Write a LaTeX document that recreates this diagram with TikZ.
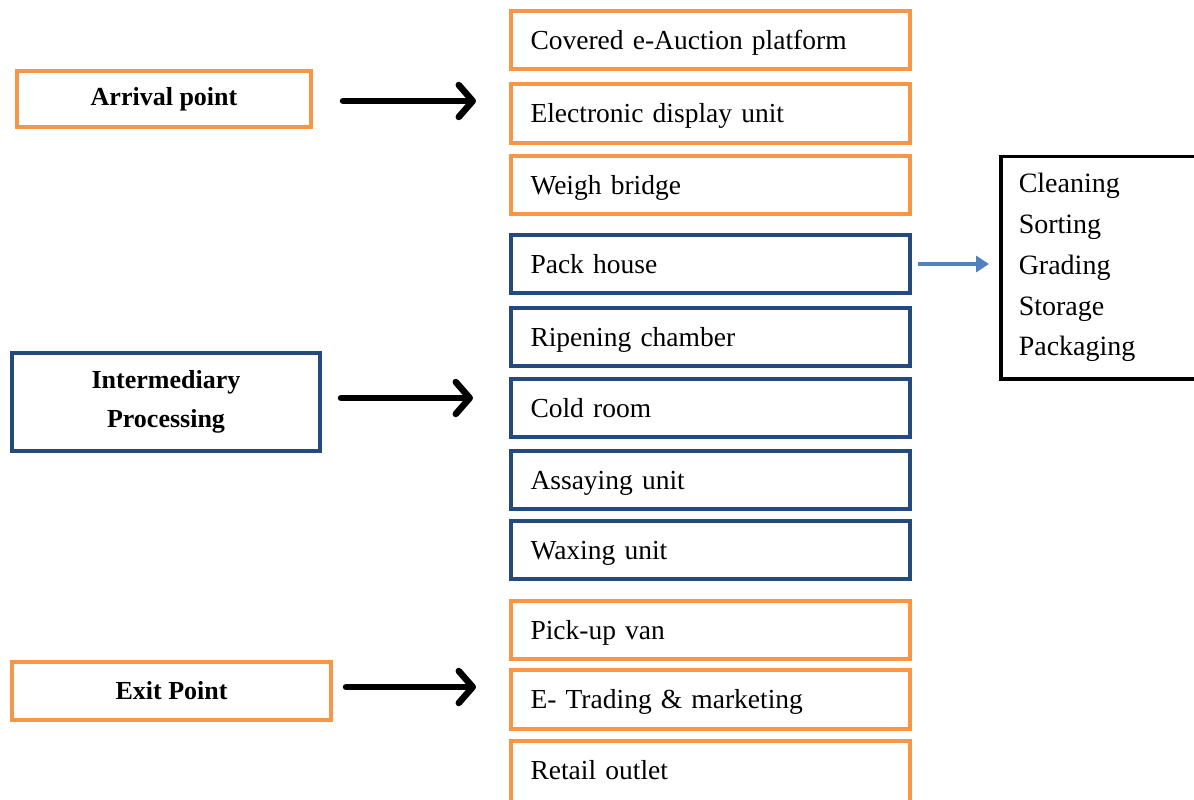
\documentclass[tikz,border=0pt]{standalone}
\usepackage{fontspec}
\setmainfont{Liberation Serif}
\newfontfamily\itemfont[WordSpace=0.78]{Liberation Serif}
\usetikzlibrary{arrows.meta}
\definecolor{borange}{HTML}{F79646}
\definecolor{bblue}{HTML}{24497E}
\definecolor{arblue}{HTML}{4F81BD}
\tikzset{
  itembox/.style={draw, line width=4pt, text width=360pt, inner xsep=19.5pt,
    minimum height=58pt, align=left, text height=24pt, text depth=6pt,
    font=\itemfont\fontsize{27.5}{32}\selectfont},
  orangebox/.style={itembox, draw=borange},
  bluebox/.style={itembox, draw=bblue},
  stagebox/.style={draw, line width=4pt, align=center,
    font=\fontsize{26}{39}\selectfont\bfseries},
  bigarrow/.style={line width=6.5pt, line cap=round,
    -{Straight Barb[length=14pt, width=32pt, line width=6.5pt, round]}},
  smallarrow/.style={draw=arblue, line width=3.5pt,
    -{Triangle[length=13pt, width=16pt]}}
}
\begin{document}
\begin{tikzpicture}[x=1pt, y=-1pt]
\useasboundingbox (0,0) rectangle (1194,800);
\clip (0,0) rectangle (1194,800);
\fill[white] (0,0) rectangle (1194,800);

% stage boxes
\node[stagebox, draw=borange, minimum width=294pt, minimum height=55pt] (arr) at (164,99) {Arrival point};
\node[stagebox, draw=bblue, minimum width=308pt, minimum height=98pt] (mid) at (166,402) {Intermediary\\Processing};
\node[stagebox, draw=borange, minimum width=319pt, minimum height=58pt] (ext) at (171.5,691) {Exit Point};

% right column
\node[orangebox] (cov) at (710.5,40.5) {Covered e-Auction platform};
\node[orangebox, minimum height=59pt] (ele) at (710.5,113.5) {Electronic display unit};
\node[orangebox] (wei) at (710.5,185) {Weigh bridge};
\node[bluebox] (pac) at (710.5,264) {Pack house};
\node[bluebox] (rip) at (710.5,337) {Ripening chamber};
\node[bluebox] (col) at (710.5,408) {Cold room};
\node[bluebox] (ass) at (710.5,480) {Assaying unit};
\node[bluebox] (wax) at (710.5,550) {Waxing unit};
\node[orangebox] (pic) at (710.5,630) {Pick-up van};
\node[orangebox, minimum height=59pt] (etr) at (710.5,699.5) {E- Trading \& marketing};
\node[orangebox, minimum height=62pt, text depth=10pt] (ret) at (710.5,772) {Retail outlet};

% pack house details
\node[draw=black, line width=3.5pt, anchor=north west, text width=190pt, inner xsep=18pt, inner ysep=17pt,
  align=left, font=\itemfont\fontsize{28}{40.8}\selectfont] (det) at (999,154.5)
  {Cleaning\\Sorting\\Grading\\Storage\\Packaging};

% arrows
\coordinate (a1s) at (343,101); \coordinate (a1e) at (476,101);
\coordinate (a2s) at (341,398); \coordinate (a2e) at (473,398);
\coordinate (a3s) at (346,687); \coordinate (a3e) at (476,687);
\draw[bigarrow] (a1s) -- (a1e);
\draw[bigarrow] (a2s) -- (a2e);
\draw[bigarrow] (a3s) -- (a3e);
\draw[smallarrow] ([xshift=6pt]pac.east) -- ([xshift=-10pt]det.west |- pac.east);
\end{tikzpicture}
\end{document}
